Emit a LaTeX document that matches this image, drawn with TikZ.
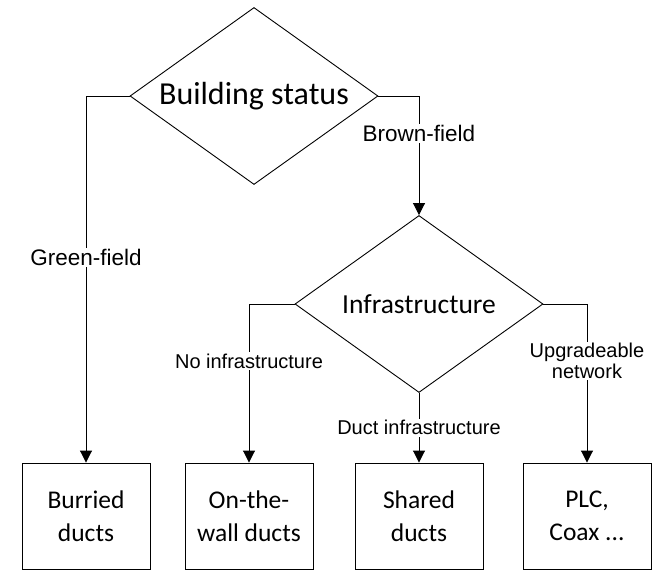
\documentclass[tikz,border=0pt]{standalone}
\usepackage{fontspec}
\setmainfont{Carlito}
\newfontfamily\arialf{Liberation Sans}
\usetikzlibrary{shapes.geometric,arrows.meta}
\tikzset{
  decision/.style={diamond, draw, line width=0.9pt, shape aspect=1.4, inner sep=0pt,
    minimum width=248pt, minimum height=177pt},
  outcome/.style={rectangle, draw, line width=0.9pt, minimum width=128pt, minimum height=106pt,
    align=center, inner sep=0pt, font=\fontsize{25.5}{32.5}\selectfont},
  conn/.style={draw, line width=0.9pt, -{Triangle[length=12pt,width=12pt]}},
  elabel/.style={fill=white, inner sep=1.5pt, align=center, font=\arialf\fontsize{20}{21}\selectfont},
  biglabel/.style={elabel, font=\arialf\fontsize{22.5}{24}\selectfont}
}
\begin{document}
\begin{tikzpicture}[x=1pt,y=-1pt]
\useasboundingbox (0,0) rectangle (657,571);
\node[decision, font=\fontsize{32}{36}\selectfont] (d1) at (254,96) {Building status};
\node[decision, font=\fontsize{27.5}{32}\selectfont] (d2) at (419,304) {Infrastructure};
\node[outcome] (b1) at (86,516) {Burried\\ducts};
\node[outcome] (b2) at (249,516) {On-the-\\wall ducts};
\node[outcome] (b3) at (419,516) {Shared\\ducts};
\node[outcome] (b4) at (587,516) {PLC,\\Coax ...};
\path[conn] (d1.west) -| node[biglabel, pos=0.72] {Green-field} (b1.north);
\path[conn] (d1.east) -| node[biglabel, pos=0.658] {Brown-field} (d2.north);
\path[conn] (d2.west) -| node[elabel, pos=0.68] {No infrastructure} (b2.north);
\path[conn] (d2.south) -- node[elabel, pos=0.5] {Duct infrastructure} (b3.north);
\path[conn] (d2.east) -| node[elabel, pos=0.68] {Upgradeable\\network} (b4.north);
\end{tikzpicture}
\end{document}
